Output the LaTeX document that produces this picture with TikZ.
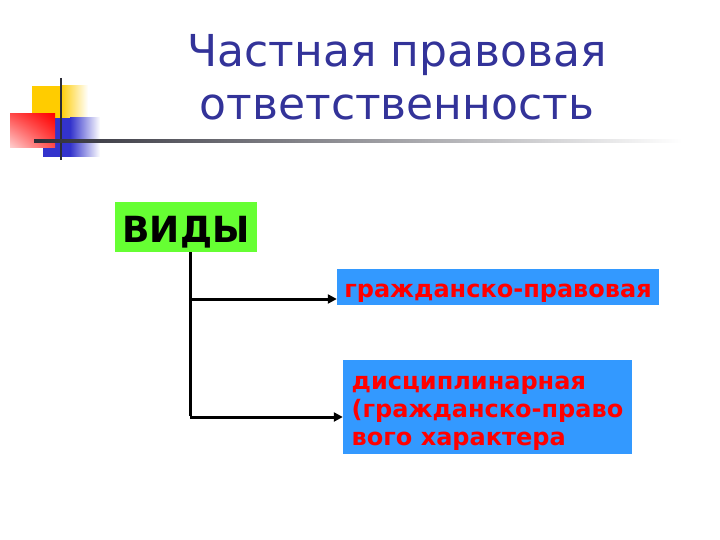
\documentclass[tikz,border=0pt]{standalone}
\usepackage{fontspec}
\setmainfont{DejaVu Sans}
\usetikzlibrary{arrows.meta,positioning,shadings}
\definecolor{titlenavy}{RGB}{51,51,153}
\definecolor{kindgreen}{RGB}{102,255,51}
\definecolor{typeblue}{RGB}{51,153,255}
\definecolor{typered}{RGB}{255,0,0}
\definecolor{decoyellow}{RGB}{255,204,0}
\definecolor{decored}{RGB}{255,0,0}
\definecolor{decoblue}{RGB}{51,51,204}
\definecolor{decoline}{RGB}{45,45,55}

\begin{document}
\begin{tikzpicture}[x=1pt,y=-1pt,
  title/.style={anchor=base,text=titlenavy,font=\fontsize{44}{52}\selectfont},
  kind/.style={rectangle,fill=kindgreen,minimum width=142pt,minimum height=50pt,inner sep=0pt,text height=30pt,text depth=0pt,font=\fontsize{36}{40}\selectfont\bfseries},
  typebox/.style={rectangle,fill=typeblue,inner sep=0pt,align=left,text=typered,font=\fontsize{24}{28}\selectfont\bfseries},
  arrow/.style={-{Triangle[length=9pt,width=9pt]},line width=3pt,draw=black}]
  \useasboundingbox (0,0) rectangle (720,540);
  % corner decoration
  \fill[decoyellow] (32,86) rectangle (60,125);
  \shade[left color=decoyellow,right color=white] (60,86) rectangle (88,125);
  \fill[decoblue] (43,118) rectangle (70,157);
  \shade[left color=decoblue,right color=white] (70,118) rectangle (100,157);
  \shade[upper right=decored,upper left=decored!70,lower right=decored!70,lower left=decored!18] (10,114) rectangle (55,148);
  \draw[line width=2.2pt,decoline] (61,78) -- (61,160);
  \shade[left color=decoline,right color=white] (34,139.5) rectangle (682,142.5);
  % title
  \node[title] (head1) at (397,67) {Частная правовая};
  \node[title] (head2) at (397,120) {ответственность};
  % boxes
  \node[kind] (vidy) at (186,227) {ВИДЫ};
  \node[typebox,minimum width=322pt,minimum height=36pt,text height=20pt,text depth=0pt] (civil) at (498,287) {гражданско-правовая};
  \node[typebox,minimum width=289pt,minimum height=94pt] (discip) at (487.5,407) {\rule{0pt}{26pt}дисциплинарная\\(гражданско-право\\вого характера};
  \coordinate (fork1) at (190,299);
  \coordinate (fork2) at (190,417);
  \draw[line width=3pt] (fork1 |- vidy.south) -- ([yshift=1.5pt]fork2);
  \draw[arrow] (fork1) -- (fork1 -| civil.west);
  \draw[arrow] (fork2) -- (fork2 -| discip.west);
\end{tikzpicture}
\end{document}
